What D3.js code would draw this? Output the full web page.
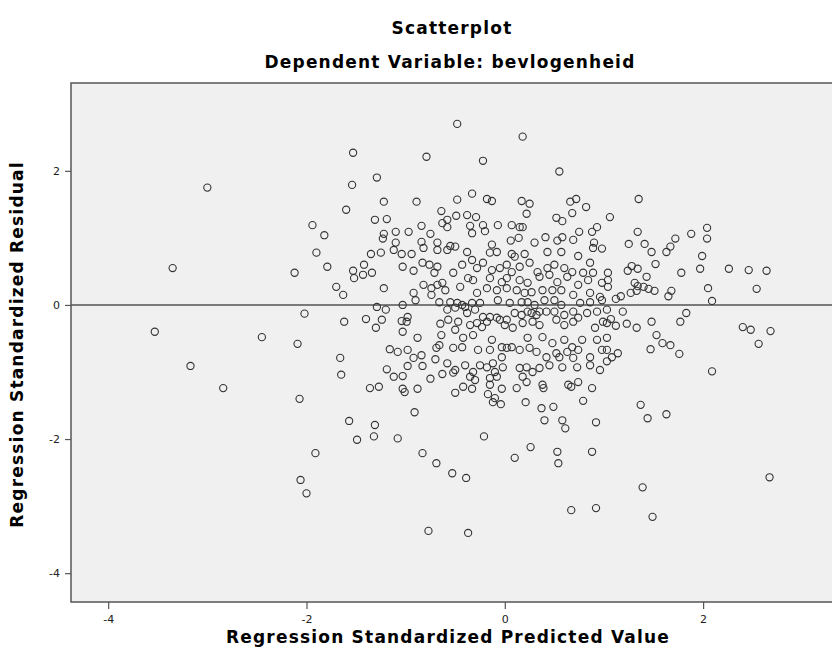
<!DOCTYPE html>
<html>
<head>
<meta charset="utf-8">
<script src="https://cdn.jsdelivr.net/npm/d3@7"></script>
<style>
  body { margin: 0; background: #fff; }
  text { font-family: "DejaVu Sans", Verdana, sans-serif; }
</style>
</head>
<body>
<div id="chart"></div>
<script>
var title = "Scatterplot";
var subtitle = "Dependent Variable: bevlogenheid";
var xLabel = "Regression Standardized Predicted Value";
var yLabel = "Regression Standardized Residual";
var xTicks = [-4, -2, 0, 2];
var yTicks = [2, 0, -2, -4];

// [standardized predicted, standardized residual]
var cases = [
  [-3.53,-0.40],[-3.35,0.55],[-3.17,-0.91],[-3.00,1.75],[-2.84,-1.24],[-2.45,-0.48],
  [-1.53,2.27],[-0.79,2.21],[-1.29,1.90],[-1.54,1.79],[-1.22,1.54],[-0.89,1.54],[-1.60,1.42],[-0.64,1.40],
  [-1.31,1.27],[-1.19,1.28],[-1.94,1.19],[-1.82,1.04],[-0.84,1.18],[-1.22,1.06],[-1.10,1.09],[-0.97,1.09],
  [-1.23,0.99],[-1.10,0.93],[-0.75,1.06],[-0.84,0.94],[-0.68,0.93],[-0.82,0.85],[-0.63,1.22],[-1.90,0.78],
  [-1.35,0.76],[-1.25,0.78],[-1.04,0.76],[-0.94,0.76],[-0.68,0.82],[-1.12,0.82],
  [-0.48,2.70],[0.18,2.51],[-0.22,2.15],[0.55,1.99],[-0.48,1.57],[-0.33,1.66],[-0.18,1.58],[-0.13,1.55],
  [0.17,1.55],[0.25,1.51],[0.22,1.36],[0.66,1.54],[0.72,1.58],[0.82,1.46],[0.68,1.37],[0.52,1.30],
  [0.58,1.25],[1.06,1.31],[-0.49,1.33],[-0.38,1.34],[-0.29,1.31],[-0.58,1.27],[-0.58,1.16],[-0.35,1.18],
  [-0.33,1.07],[-0.22,1.19],[-0.20,1.10],[-0.07,1.19],[0.07,1.19],[0.15,1.16],[0.18,1.16],[0.14,1.00],
  [0.06,0.96],[0.30,0.93],[0.41,1.01],[0.53,0.96],[0.58,1.01],[0.69,0.97],[0.75,1.09],[0.88,1.09],
  [0.93,1.16],[0.90,0.93],[0.89,0.85],[0.98,0.84],[-0.55,0.88],[-0.50,0.87],[-0.38,0.79],[-0.13,0.90],
  [-0.15,0.78],[-0.08,0.79],[0.07,0.76],[0.20,0.76],[0.43,0.79],[0.57,0.79],[0.74,0.73],
  [1.35,1.58],[1.34,1.09],[1.25,0.91],[1.41,0.91],[1.48,0.79],[1.63,0.79],[1.67,0.87],[1.72,0.99],
  [1.88,1.06],[2.04,1.15],[2.04,0.99],[1.99,0.73],
  [1.97,0.54],[1.52,0.61],[1.28,0.58],[1.34,0.54],[1.24,0.51],[1.43,0.42],[1.78,0.48],[2.26,0.54],
  [2.46,0.52],[2.64,0.51],[2.54,0.24],[2.05,0.25],[2.09,0.06],[1.04,0.48],[1.04,0.37],[1.04,0.27],
  [1.31,0.33],[1.34,0.28],[1.40,0.27],[1.45,0.24],[1.51,0.21],[1.33,0.21],[1.27,0.18],[1.17,0.13],
  [1.12,0.09],[1.68,0.21],[1.65,0.13],[1.19,-0.10],[1.07,-0.21],[1.03,-0.27],[1.12,-0.31],[1.23,-0.28],
  [1.33,-0.34],[1.48,-0.25],[1.83,-0.12],[1.77,-0.25],[1.53,-0.45],[1.59,-0.57],[1.67,-0.60],[1.47,-0.66],
  [1.76,-0.73],[1.03,-0.49],[1.03,-0.67],[1.14,-0.72],[1.08,-0.78],[1.03,-0.84],[2.09,-0.99],[2.40,-0.33],
  [2.48,-0.37],[2.68,-0.39],[2.56,-0.58],
  [1.37,-1.49],[1.44,-1.69],[1.63,-1.63],[1.39,-2.72],[1.49,-3.16],[2.67,-2.57],
  [-1.79,0.57],[-2.12,0.48],[-1.53,0.51],[-1.42,0.60],[-1.52,0.40],[-1.43,0.45],[-1.34,0.48],[-1.70,0.27],
  [-1.63,0.15],[-1.22,0.25],[-1.03,0.57],[-0.92,0.51],[-0.83,0.63],[-0.76,0.60],[-0.71,0.48],[-0.68,0.57],
  [-0.82,0.30],[-0.74,0.25],[-0.68,0.30],[-0.74,0.15],[-0.66,0.04],[-0.92,0.18],[-0.90,0.07],[-1.03,0.00],
  [-1.29,-0.03],[-1.20,-0.07],[-2.02,-0.13],[-1.62,-0.25],[-1.40,-0.21],[-1.24,-0.22],[-1.30,-0.34],[-1.04,-0.24],
  [-0.99,-0.25],[-0.98,-0.18],[-1.03,-0.40],[-0.88,-0.49],[-0.65,-0.28],[-0.64,-0.45],[-2.09,-0.58],[-1.16,-0.66],
  [-1.08,-0.70],[-0.98,-0.67],[-0.92,-0.79],[-0.84,-0.75],[-0.69,-0.64],[-0.66,-0.60],[-0.70,-0.81],[-1.66,-0.79],
  [-1.65,-1.04],[-1.19,-0.96],[-1.12,-1.07],[-1.03,-1.06],[-0.98,-0.91],[-0.83,-0.91],[-0.75,-1.10],[-0.63,-1.03],
  [-1.36,-1.24],[-1.27,-1.22],[-1.03,-1.25],[-0.88,-1.25],
  [-2.07,-1.40],[-1.01,-1.30],[-0.91,-1.60],[-1.57,-1.73],[-1.31,-1.79],[-1.32,-1.96],[-1.49,-2.01],[-1.08,-1.99],
  [-1.91,-2.21],[-0.83,-2.21],[-0.69,-2.36],[-2.06,-2.61],[-2.00,-2.81],[-0.77,-3.37],
  [-0.50,-1.31],[-0.42,-1.22],[-0.33,-1.25],[-0.17,-1.33],[-0.15,-1.19],[-0.10,-1.39],[-0.12,-1.45],[-0.04,-1.48],
  [-0.03,-1.25],[0.12,-1.24],[0.21,-1.45],[0.39,-1.24],[0.37,-1.54],[0.49,-1.52],[0.40,-1.72],[0.58,-1.72],
  [0.61,-1.84],[0.67,-1.22],[0.79,-1.43],[0.88,-1.24],[0.92,-1.75],[-0.21,-1.96],[0.26,-2.12],[0.10,-2.28],
  [0.53,-2.19],[0.54,-2.36],[0.88,-2.19],[-0.53,-2.51],[-0.39,-2.58],[0.67,-3.06],[0.92,-3.03],[-0.37,-3.40],
  [-0.58,0.82],[0.10,0.72],[0.86,0.63],[-0.52,0.48],[-0.43,0.60],[-0.33,0.67],[-0.28,0.55],[-0.22,0.63],
  [-0.13,0.52],[-0.05,0.55],[0.02,0.60],[0.07,0.49],[0.15,0.57],[0.25,0.63],[0.33,0.49],[0.43,0.55],
  [0.50,0.60],[0.60,0.55],[0.68,0.49],[0.79,0.48],[0.89,0.48],[-0.63,0.33],[-0.37,0.40],[-0.32,0.37],
  [-0.15,0.40],[-0.03,0.34],[0.02,0.40],[0.15,0.37],[0.23,0.33],[0.35,0.42],[0.45,0.45],[0.53,0.34],
  [0.63,0.42],[0.74,0.30],[0.84,0.37],[0.98,0.33],[-0.60,0.22],[-0.45,0.27],[-0.28,0.18],[-0.18,0.25],
  [-0.08,0.22],[0.02,0.25],[0.12,0.22],[0.20,0.18],[0.27,0.19],[0.38,0.22],[0.48,0.22],[0.57,0.22],
  [0.69,0.15],[0.86,0.18],[0.96,0.12],[-0.55,0.04],[-0.48,0.03],[-0.43,0.00],[-0.40,-0.03],[-0.33,0.03],
  [-0.25,0.03],[-0.07,0.07],[0.05,0.03],[0.17,0.04],[0.23,0.04],[0.30,0.00],[0.40,0.07],[0.50,0.07],
  [0.57,0.00],[0.76,0.03],[0.86,0.04],[0.98,0.07],[-0.58,-0.07],[-0.50,-0.04],[-0.38,-0.12],[-0.30,-0.07],
  [-0.22,-0.18],[-0.15,-0.18],[-0.08,-0.19],[-0.05,-0.22],[0.02,-0.22],[0.10,-0.12],[0.17,-0.15],[0.23,-0.10],
  [0.27,-0.12],[0.32,-0.15],[0.35,-0.10],[0.42,-0.10],[0.50,-0.10],[0.60,-0.15],[0.69,-0.10],[0.83,-0.12],
  [0.93,-0.10],[1.03,-0.07],[-0.57,-0.22],[-0.47,-0.25],[-0.35,-0.30],[-0.28,-0.27],[-0.23,-0.33],[-0.18,-0.25],
  [0.00,-0.30],[0.08,-0.34],[0.18,-0.27],[0.28,-0.25],[0.35,-0.30],[0.52,-0.22],[0.60,-0.30],[0.69,-0.25],
  [0.74,-0.19],[0.91,-0.34],[0.99,-0.25],[-0.50,-0.37],[-0.42,-0.49],[-0.32,-0.45],[-0.13,-0.52],[-0.03,-0.63],
  [0.02,-0.64],[0.07,-0.63],[0.23,-0.49],[0.25,-0.64],[0.38,-0.48],[0.48,-0.57],[0.60,-0.52],[0.68,-0.63],
  [0.74,-0.67],[0.78,-0.52],[0.93,-0.52],[-0.52,-0.64],[-0.43,-0.63],[-0.27,-0.67],[-0.15,-0.67],[-0.03,-0.78],
  [0.15,-0.67],[0.32,-0.70],[0.42,-0.78],[0.52,-0.72],[0.55,-0.78],[0.63,-0.70],[0.69,-0.79],[0.86,-0.78],
  [0.98,-0.67],[-0.58,-0.87],[-0.50,-0.97],[-0.40,-0.90],[-0.32,-1.00],[-0.25,-0.90],[-0.18,-0.93],[-0.12,-0.87],
  [-0.10,-1.00],[-0.02,-0.93],[0.15,-0.94],[0.22,-0.93],[0.28,-1.00],[0.35,-0.94],[0.45,-0.90],[0.58,-0.93],
  [0.73,-0.93],[0.86,-0.90],[0.96,-0.97],[-0.52,-1.01],[-0.35,-1.07],[-0.30,-1.12],[-0.15,-1.09],[-0.08,-1.07],
  [0.18,-1.07],[0.22,-1.15],[0.38,-1.19],[0.64,-1.19],[0.74,-1.15]
];

var width = 832, height = 664;
var plot = {left: 71, top: 83, right: 834, bottom: 602};

var svg = d3.select("#chart").append("svg")
  .attr("width", width)
  .attr("height", height);

var x = d3.scaleLinear().domain([-4.375, 3.32]).range([plot.left, plot.right]);
var y = d3.scaleLinear().domain([-4.43, 3.31]).range([plot.bottom, plot.top]);

/* plot background */
svg.append("rect")
  .attr("x", plot.left).attr("y", plot.top)
  .attr("width", plot.right - plot.left).attr("height", plot.bottom - plot.top)
  .attr("fill", "#f0f0f0");

/* zero reference line */
svg.append("line")
  .attr("x1", plot.left).attr("x2", plot.right)
  .attr("y1", y(0)).attr("y2", y(0))
  .attr("stroke", "#7a7a7a").attr("stroke-width", 2);

/* points */
svg.append("g").selectAll("circle")
  .data(cases).enter()
  .append("circle")
  .attr("cx", d => x(d[0]))
  .attr("cy", d => y(d[1]))
  .attr("r", 3.6)
  .attr("fill", "none")
  .attr("stroke", "#333")
  .attr("stroke-width", 1.1);

/* frame */
svg.append("rect")
  .attr("x", plot.left).attr("y", plot.top)
  .attr("width", plot.right - plot.left).attr("height", plot.bottom - plot.top)
  .attr("fill", "none")
  .attr("stroke", "#555").attr("stroke-width", 1.5);

/* axes */
var xAxis = d3.axisBottom(x).tickValues(xTicks).tickSize(7).tickPadding(6)
  .tickFormat(d => d < 0 ? "-" + Math.abs(d) : d);
var yAxis = d3.axisLeft(y).tickValues(yTicks).tickSize(6).tickPadding(5)
  .tickFormat(d => d < 0 ? "-" + Math.abs(d) : d);

var gx = svg.append("g")
  .attr("transform", `translate(0, ${plot.bottom})`)
  .call(xAxis);
var gy = svg.append("g")
  .attr("transform", `translate(${plot.left}, 0)`)
  .call(yAxis);

[gx, gy].forEach(function(g) {
  g.select(".domain").remove();
  g.selectAll(".tick line").attr("stroke", "#555").attr("stroke-width", 1.2);
  g.selectAll(".tick text")
    .attr("fill", "#222")
    .style("font-family", "DejaVu Sans, sans-serif")
    .style("font-size", "11px");
});

/* titles */
function boldLabel(sel) {
  return sel.style("font-weight", "bold")
    .style("font-size", "17px")
    .style("letter-spacing", "1.2px");
}

svg.append("text")
  .attr("x", 452).attr("y", 34)
  .attr("text-anchor", "middle")
  .call(boldLabel)
  .text(title);

svg.append("text")
  .attr("x", 450).attr("y", 68)
  .attr("text-anchor", "middle")
  .call(boldLabel)
  .text(subtitle);

svg.append("text")
  .attr("x", 448).attr("y", 643)
  .attr("text-anchor", "middle")
  .call(boldLabel)
  .text(xLabel);

svg.append("text")
  .attr("transform", `translate(23, ${(plot.top + plot.bottom) / 2 + 2}) rotate(-90)`)
  .attr("text-anchor", "middle")
  .call(boldLabel)
  .text(yLabel);
</script>
</body>
</html>
